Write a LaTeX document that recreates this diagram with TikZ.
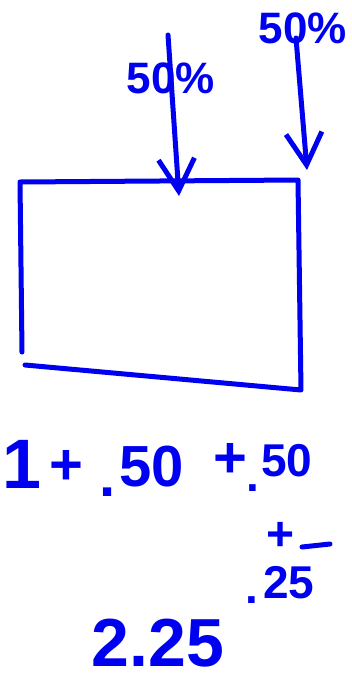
\documentclass[tikz,border=0pt]{standalone}
\usepackage{fontspec}
\setmainfont{Liberation Sans}
\usetikzlibrary{arrows.meta}
\definecolor{ink}{RGB}{0,0,240}
\begin{document}
\begin{tikzpicture}[x=1pt,y=-1pt,
  pen/.style={draw=ink,line width=5pt,line cap=round,line join=round},
  arr/.style={pen,-{Straight Barb[length=32pt,width=36pt,line width=5pt]}},
  hand/.style={text=ink,inner sep=0pt,font=\fontsize{#1}{#1}\selectfont\bfseries},
  hand/.default=46]
\useasboundingbox (0,0) rectangle (351,691);
% box
\coordinate (E) at (22,352);
\coordinate (A) at (20,182);
\coordinate (B) at (298,180);
\coordinate (C) at (301,390);
\coordinate (D) at (25,365);
\draw[pen] (E) -- (A) -- (B) -- (C) -- (D);
% arrows
\coordinate (s1) at (168,35);
\coordinate (t1) at (179,196);
\coordinate (s2) at (296,38);
\coordinate (t2) at (307,170);
\draw[arr] (s1) -- (t1);
\draw[arr] (s2) -- (t2);
\node[hand=44] (l1) at (171,78) {50\%};
\node[hand=44] (l2) at (303,28) {50\%};
% sum
\node[hand=70] (n1) at (22,464) {1};
\node[hand=58] (p1) at (66,467) {+};
\node[hand=58] (dot1) at (108,492) {.};
\node[hand=58] (f1) at (152,467) {50};
\node[hand=58] (p2) at (230,460) {+};
\node[hand=46] (dot2) at (253,488) {.};
\node[hand=46] (f2) at (287,461) {50};
\node[hand=48] (p3) at (281,536) {+};
\coordinate (d1) at (302,547);
\coordinate (d2) at (330,544);
\draw[pen] (d1) -- (d2);
\node[hand=46] (dot3) at (252,600) {.};
\node[hand=46] (f3) at (289,583) {25};
\node[hand=68] (t) at (158,643) {2.25};
\end{tikzpicture}
\end{document}
